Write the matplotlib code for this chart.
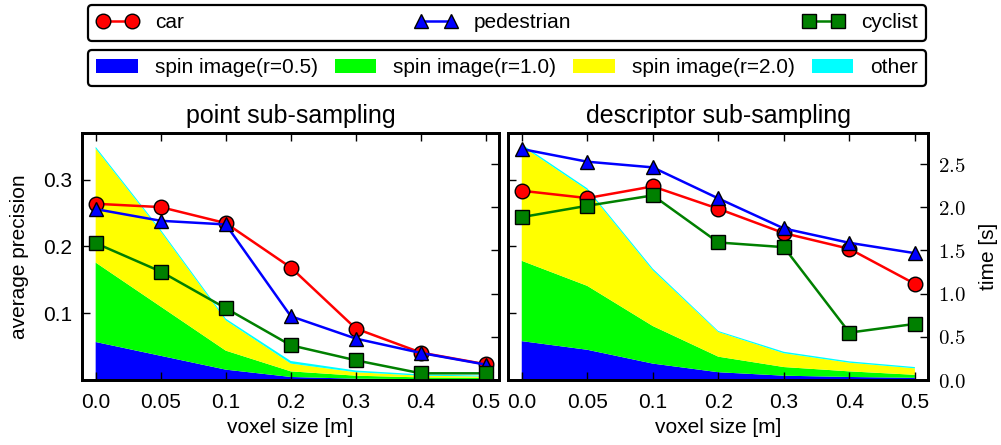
import numpy as np
import matplotlib
matplotlib.use('Agg')
import matplotlib.pyplot as plt
from matplotlib.ticker import FixedLocator, FixedFormatter, NullFormatter

plt.rcParams['font.family'] = ['Liberation Sans', 'DejaVu Sans']
plt.rcParams['mathtext.fontset'] = 'cm'

# ---------------- data ----------------
voxel_labels = ['0.0', '0.05', '0.1', '0.2', '0.3', '0.4', '0.5']

# average precision, point sub-sampling
point_car = [0.264, 0.259, 0.235, 0.1685, 0.077, 0.041, 0.0235]
point_ped = [0.256, 0.2385, 0.233, 0.0955, 0.062, 0.0405, 0.023]
point_cyc = [0.205, 0.1625, 0.1075, 0.052, 0.0295, 0.010, 0.010]

# average precision, descriptor sub-sampling
desc_car = [0.2835, 0.2725, 0.290, 0.2565, 0.220, 0.1965, 0.144]
desc_ped = [0.346, 0.327, 0.3185, 0.272, 0.227, 0.2055, 0.190]
desc_cyc = [0.244, 0.261, 0.2765, 0.206, 0.199, 0.071, 0.084]

# time [s] components, point sub-sampling
point_t_spin05 = [0.44, 0.28, 0.12, 0.035, 0.015, 0.010, 0.008]
point_t_spin10 = [0.92, 0.57, 0.22, 0.065, 0.035, 0.020, 0.017]
point_t_spin20 = [1.32, 0.87, 0.35, 0.090, 0.040, 0.020, 0.015]
point_t_other = [0.02, 0.02, 0.02, 0.030, 0.020, 0.015, 0.010]

# time [s] components, descriptor sub-sampling
desc_t_spin05 = [0.45, 0.35, 0.19, 0.090, 0.050, 0.035, 0.025]
desc_t_spin10 = [0.93, 0.74, 0.435, 0.180, 0.100, 0.065, 0.035]
desc_t_spin20 = [1.33, 1.11, 0.645, 0.285, 0.160, 0.100, 0.075]
desc_t_other = [0.02, 0.02, 0.02, 0.012, 0.017, 0.016, 0.015]

series_names = ['car', 'pedestrian', 'cyclist']
stack_names = ['spin image(r=0.5)', 'spin image(r=1.0)', 'spin image(r=2.0)', 'other']
stack_colors = ['#0000ff', '#00ff00', '#ffff00', '#00ffff']

time_ticks = [0.0, 0.5, 1.0, 1.5, 2.0, 2.5]
ap_ticks = [0.1, 0.2, 0.3]

# ---------------- figure ----------------
W, H = 1001, 445
fig = plt.figure(figsize=(W / 100, H / 100), dpi=100)

x = np.arange(len(voxel_labels))
FS = 15


def make_panel(rect, title, car, ped, cyc, stacks, show_ap_labels, show_time_labels):
    ax_t = fig.add_axes(rect)
    ax_ap = ax_t.twinx()
    ax_t.yaxis.set_ticks_position('right')
    ax_ap.yaxis.set_ticks_position('left')
    ax_ap.yaxis.set_label_position('left')

    polys = ax_t.stackplot(x, *stacks, colors=stack_colors, linewidth=0)

    l1, = ax_ap.plot(x, car, '-o', color='red', mfc='red', mec='black', ms=10.5, lw=1.8, mew=1)
    l2, = ax_ap.plot(x, ped, '-^', color='blue', mfc='blue', mec='black', ms=10.5, lw=1.8, mew=1)
    l3, = ax_ap.plot(x, cyc, '-s', color='green', mfc='green', mec='black', ms=10.5, lw=1.8, mew=1)

    ax_t.set_xlim(-0.21, 6.2)
    ax_t.set_ylim(0, 2.86)
    ax_ap.set_ylim(0, 0.37)

    ax_t.set_xticks(x)
    ax_t.set_xticklabels(voxel_labels, fontsize=FS)
    ax_t.tick_params(axis='x', direction='in', top=True, bottom=True, length=6, width=1, pad=9)
    ax_t.set_xlabel('voxel size [m]', fontsize=FS, labelpad=5)

    ax_t.yaxis.set_major_locator(FixedLocator(time_ticks))
    ax_t.tick_params(axis='y', direction='in', length=6, width=1, pad=7, labelsize=FS)
    if show_time_labels:
        ax_t.yaxis.set_major_formatter(FixedFormatter(['$%.1f$' % v for v in time_ticks]))
        ax_t.set_ylabel('time [s]', fontsize=FS, labelpad=10)
        ax_t.yaxis.set_label_position('right')
    else:
        ax_t.yaxis.set_major_formatter(NullFormatter())

    ax_ap.yaxis.set_major_locator(FixedLocator(ap_ticks))
    ax_ap.tick_params(axis='y', direction='in', length=6, width=1, pad=7, labelsize=FS)
    if show_ap_labels:
        ax_ap.set_yticklabels(['%.1f' % v for v in ap_ticks])
        ax_ap.set_ylabel('average precision', fontsize=FS, labelpad=10)
    else:
        ax_ap.yaxis.set_major_formatter(NullFormatter())

    for a in (ax_t, ax_ap):
        for s in a.spines.values():
            s.set_linewidth(2)

    ax_ap.set_title(title, fontsize=18, pad=7)
    return (l1, l2, l3), polys


lines, polys = make_panel([82 / W, 65 / H, 417 / W, 247 / H], 'point sub-sampling',
                          point_car, point_ped, point_cyc,
                          [point_t_spin05, point_t_spin10, point_t_spin20, point_t_other],
                          True, False)
make_panel([508 / W, 65 / H, 420 / W, 247 / H], 'descriptor sub-sampling',
           desc_car, desc_ped, desc_cyc,
           [desc_t_spin05, desc_t_spin10, desc_t_spin20, desc_t_other],
           False, True)

leg_x0 = 88 / W
leg_w = (926 - 88) / W
leg1 = fig.legend(lines, series_names, loc='upper left', ncol=3, mode='expand',
                  bbox_to_anchor=(leg_x0, 1 - 5 / H, leg_w, 0), borderaxespad=0,
                  fontsize=FS, numpoints=2, fancybox=True, framealpha=1)
leg2 = fig.legend(polys, stack_names, loc='upper left', ncol=4, mode='expand',
                  bbox_to_anchor=(leg_x0, 1 - 50 / H, leg_w, 0), borderaxespad=0,
                  fontsize=FS, fancybox=True, framealpha=1)
for lg in (leg1, leg2):
    fr = lg.get_frame()
    fr.set_edgecolor('black')
    fr.set_linewidth(1.6)

fig.savefig('out.png', dpi=100)
